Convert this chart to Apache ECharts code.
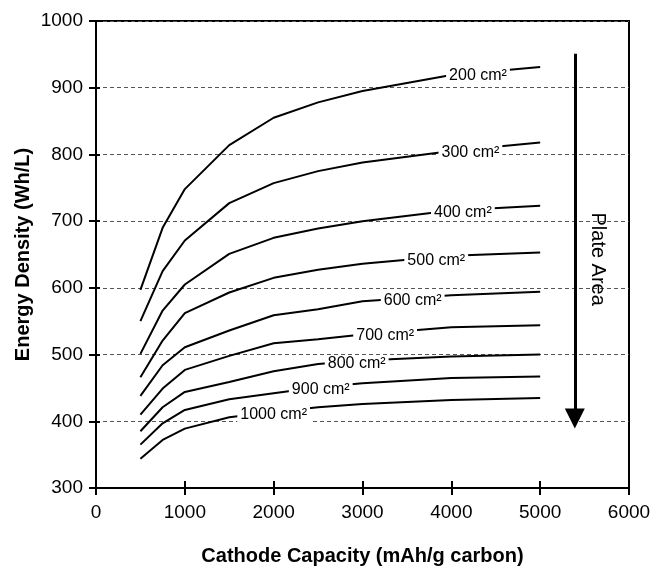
<!DOCTYPE html>
<html>
<head>
<meta charset="utf-8">
<script src="https://cdn.jsdelivr.net/npm/echarts@6/dist/echarts.min.js"></script>
<style>html,body{margin:0;padding:0;background:#fff;}#c{width:657px;height:570px;}</style>
</head>
<body>
<div id="c"></div>
<script>
// ---- data ----
const capacity = [500, 750, 1000, 1500, 2000, 2500, 3000, 4000, 5000];
const plateAreas = ['200 cm²', '300 cm²', '400 cm²', '500 cm²', '600 cm²', '700 cm²', '800 cm²', '900 cm²', '1000 cm²'];
const density200 = [597, 690, 748, 814, 855, 878, 895, 919, 931];
const density300 = [550, 625, 671, 727, 757, 775, 788, 805, 818];
const density400 = [501, 566, 605, 651, 675, 689, 700, 716, 723];
const density500 = [466, 521, 562, 593, 615, 627, 636, 648, 653];
const density600 = [438, 484, 511, 536, 559, 568, 580, 589, 594];
const density700 = [410, 449, 477, 498, 517, 523, 530, 541, 544];
const density800 = [385, 421, 444, 459, 475, 486, 491, 497, 500];
const density900 = [365, 397, 417, 433, 442, 451, 457, 465, 467];
const density1000 = [344, 372, 389, 406, 414, 421, 426, 432, 435];
const xTicks = [0, 1000, 2000, 3000, 4000, 5000, 6000];
const yTicks = [300, 400, 500, 600, 700, 800, 900, 1000];
const xTitle = 'Cathode Capacity (mAh/g carbon)';
const yTitle = 'Energy Density (Wh/L)';
const arrowText = 'Plate Area';

// where along each curve its inline label sits (capacity value)
const labelAt = [4300, 4215, 4130, 3830, 3565, 3255, 2935, 2530, 2000];

const curves = [density200, density300, density400, density500, density600, density700, density800, density900, density1000];

function interp(xs, ys, x) {
  for (let i = 0; i < xs.length - 1; i++) {
    if (x >= xs[i] && x <= xs[i + 1]) {
      const t = (x - xs[i]) / (xs[i + 1] - xs[i]);
      return ys[i] + t * (ys[i + 1] - ys[i]);
    }
  }
  return ys[ys.length - 1];
}

const FONT = "'Liberation Sans', Arial, Helvetica, sans-serif";
const series = [];
curves.forEach((ys, i) => {
  series.push({
    name: plateAreas[i],
    type: 'line',
    data: capacity.map((x, j) => [x, ys[j]]),
    symbol: 'none',
    lineStyle: { color: '#000', width: 2 },
    z: 3,
    silent: true
  });
});
series.push({
  name: 'labels',
  type: 'scatter',
  symbolSize: 1,
  itemStyle: { color: '#fff', opacity: 1 },
  data: curves.map((ys, i) => ({ value: [labelAt[i], interp(capacity, ys, labelAt[i])], name: plateAreas[i] })),
  label: {
    show: true,
    position: 'inside',
    formatter: p => p.name,
    fontFamily: FONT,
    fontSize: 16,
    color: '#000',
    opacity: 1,
    backgroundColor: '#fff',
    padding: [0, 3],
    offset: [0, 3]
  },
  z: 10,
  silent: true
});
// Plate Area arrow and text
series.push({
  name: 'arrow',
  type: 'line',
  data: [],
  markLine: {
    silent: true,
    symbol: ['none', 'triangle'],
    symbolSize: [20, 20],
    label: { show: false },
    lineStyle: { color: '#000', width: 3, type: 'solid', opacity: 1 },
    itemStyle: { color: '#000' },
    data: [[{ coord: [5390, 951] }, { coord: [5390, 404] }]]
  }
});
series.push({
  name: 'arrowText',
  type: 'scatter',
  symbolSize: 1,
  itemStyle: { color: '#fff', opacity: 1 },
  data: [{ value: [5640, 643], name: arrowText }],
  label: {
    show: true,
    position: 'inside',
    formatter: p => p.name,
    rotate: -90,
    fontFamily: FONT,
    fontSize: 20,
    color: '#000',
    opacity: 1
  },
  silent: true
});

const plain = v => String(v);
const chart = echarts.init(document.getElementById('c'), null, { renderer: 'canvas' });
chart.setOption({
  animation: false,
  backgroundColor: '#fff',
  grid: { left: 96, right: 28, top: 21, bottom: 82, outerBoundsMode: 'none', containLabel: false, show: true, borderColor: '#000', borderWidth: 2, backgroundColor: 'transparent' },
  xAxis: [{
    type: 'value', position: 'bottom',
    min: xTicks[0], max: xTicks[xTicks.length - 1], interval: 1000,
    name: xTitle, nameLocation: 'middle', nameGap: 58,
    nameTextStyle: { fontFamily: FONT, fontSize: 20, fontWeight: 'bold', color: '#000' },
    axisLine: { show: true, lineStyle: { color: '#000', width: 2 } },
    axisTick: { show: true, inside: false, length: 7, lineStyle: { color: '#000', width: 2 } },
    axisLabel: { fontFamily: FONT, fontSize: 19, color: '#000', margin: 15, formatter: plain },
    splitLine: { show: false }
  }, {
    type: 'value', position: 'bottom',
    min: xTicks[0], max: xTicks[xTicks.length - 1], interval: 1000,
    axisLine: { show: false },
    axisTick: { show: true, inside: true, length: 7, lineStyle: { color: '#000', width: 2 } },
    axisLabel: { show: false },
    splitLine: { show: false }
  }],
  yAxis: [{
    type: 'value', position: 'left',
    min: yTicks[0], max: yTicks[yTicks.length - 1], interval: 100,
    name: yTitle, nameLocation: 'middle', nameGap: 63, nameMoveOverlap: false,
    nameTextStyle: { fontFamily: FONT, fontSize: 20, fontWeight: 'bold', color: '#000' },
    axisLine: { show: true, lineStyle: { color: '#000', width: 2 } },
    axisTick: { show: true, inside: false, length: 7, lineStyle: { color: '#000', width: 2 } },
    axisLabel: { fontFamily: FONT, fontSize: 19, color: '#000', margin: 13, formatter: plain },
    splitLine: { show: true, lineStyle: { color: '#555', width: 1, type: [4, 3] } }
  }, {
    type: 'value', position: 'left',
    min: yTicks[0], max: yTicks[yTicks.length - 1], interval: 100,
    axisLine: { show: false },
    axisTick: { show: true, inside: true, length: 4, lineStyle: { color: '#000', width: 2 } },
    axisLabel: { show: false },
    splitLine: { show: false }
  }],
  series: series
});
</script>
</body>
</html>
